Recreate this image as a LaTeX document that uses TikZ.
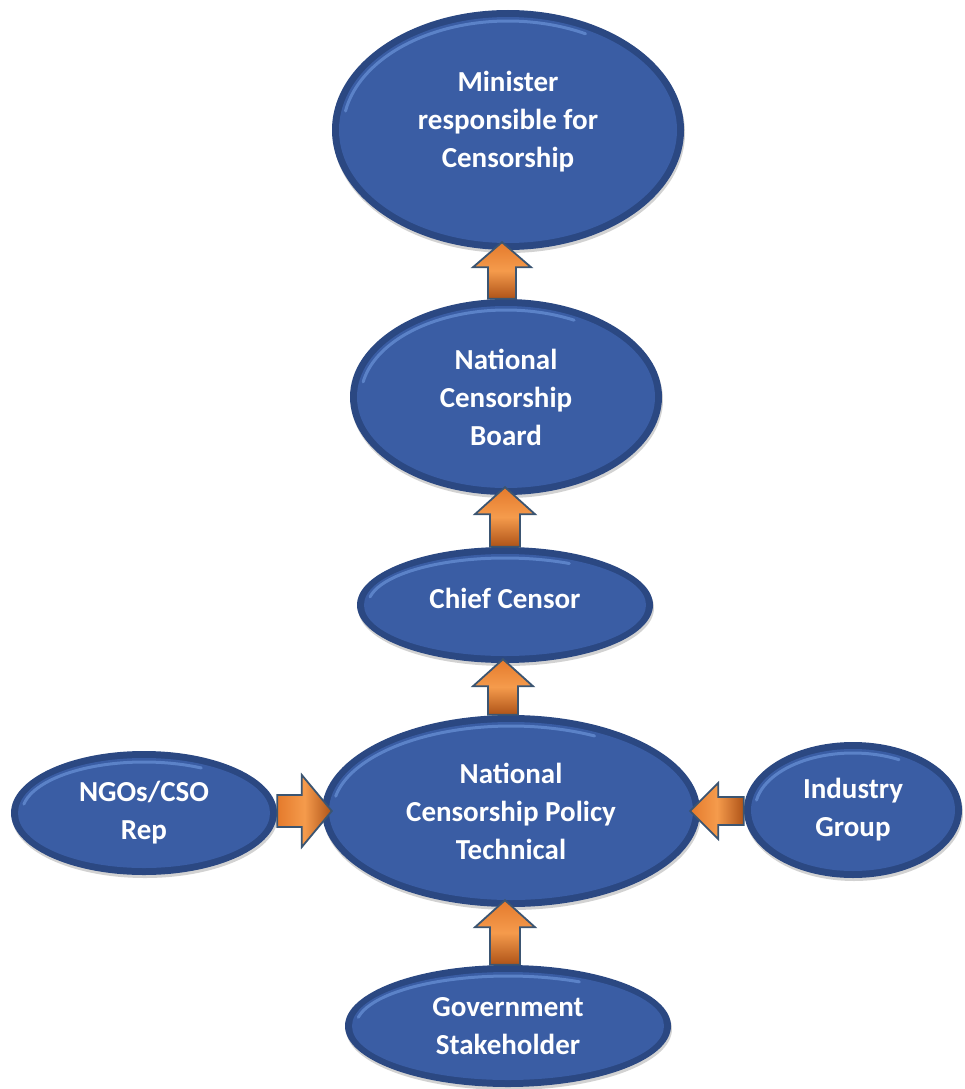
\documentclass[tikz,border=0pt]{standalone}
\usepackage{fontspec}
\setmainfont{Carlito}
\usetikzlibrary{shapes.geometric,calc,shadows}

\definecolor{rim}{HTML}{2B4882}
\definecolor{face}{HTML}{3A5DA4}
\definecolor{gloss}{HTML}{5F87CC}
\definecolor{arrowedge}{HTML}{3B5572}
\definecolor{arrowleft}{HTML}{E47A2C}
\definecolor{arrowright}{HTML}{AE5318}
\definecolor{arrowlight}{HTML}{F59B4C}

\tikzset{
  bubble/.style={ellipse, inner sep=0pt, fill=rim, text=white,
    font=\fontsize{29}{38}\selectfont\bfseries, align=center,
    drop shadow={shadow xshift=1pt, shadow yshift=-3pt, opacity=0.25, fill=black!70},
    path picture={
      \fill[face] let \p1=(path picture bounding box.north east),
                      \p2=(path picture bounding box.center) in
        (\p2) ellipse [x radius={\x1-\x2-7pt}, y radius={\y1-\y2-7pt}];
      \draw[gloss, line width=3pt, line cap=round, opacity=0.9]
        let \p1=(path picture bounding box.north east),
            \p2=(path picture bounding box.center),
            \n1={\x1-\x2-11pt}, \n2={\y1-\y2-11pt} in
        ($(\p2)+({\n1*cos(170)*1pt},{\n2*sin(170)*1pt})$)
        arc[start angle=170, end angle=62, x radius={\n1*1pt}, y radius={\n2*1pt}];
    }},
  arrowbody/.style={draw=arrowedge, line width=1.8pt, line join=miter,
    left color=arrowleft, right color=arrowright, middle color=arrowlight},
}

% block arrow: tail, tip, shaft half width, head half width, head length, shading angle
\newcommand\blockarrow[6]{%
  \coordinate (hb) at ($(#2)!#5!(#1)$);
  \draw[arrowbody, shading angle=#6]
    ($(#1)!#3!90:(#2)$) -- ($(hb)!#3!90:(#2)$) -- ($(hb)!#4!90:(#2)$) --
    (#2) --
    ($(hb)!#4!-90:(#2)$) -- ($(hb)!#3!-90:(#2)$) -- ($(#1)!#3!-90:(#2)$) -- cycle;
}

\begin{document}
\begin{tikzpicture}[x=1pt, y=-1pt]
\useasboundingbox (0,0) rectangle (965,1089);

\node[bubble, minimum width=352pt, minimum height=240pt, text depth=22pt] (min) at (508,130)
  {Minister\\responsible for\\Censorship};
\node[bubble, minimum width=312pt, minimum height=196pt] (board) at (506,397)
  {National\\Censorship\\Board};
\node[bubble, minimum width=296pt, minimum height=116pt, text depth=14pt] (chief) at (505,605)
  {Chief Censor};
\node[bubble, minimum width=378pt, minimum height=192pt] (policy) at (511,811)
  {National\\Censorship Policy\\Technical};
\node[bubble, minimum width=266pt, minimum height=124pt] (ngo) at (144,813)
  {NGOs/CSO\\Rep};
\node[bubble, minimum width=218pt, minimum height=136pt] (ind) at (853,810)
  {Industry\\Group};
\node[bubble, minimum width=326pt, minimum height=122pt] (gov) at (508,1026)
  {Government\\Stakeholder};

% upward chain
\coordinate (t1) at ($(board.north)+(-4,0)$);
\coordinate (p1) at ($(min.south -| t1)+(0,-8)$);
\blockarrow{t1}{p1}{14pt}{29pt}{25pt}{0}
\coordinate (t2) at (chief.north);
\coordinate (p2) at ($(board.south -| t2)+(0,-8)$);
\blockarrow{t2}{p2}{15pt}{30pt}{27pt}{0}
\coordinate (t3) at ($(policy.north)+(-8,0)$);
\coordinate (p3) at ($(chief.south -| t3)+(0,-4)$);
\blockarrow{t3}{p3}{15pt}{30pt}{27pt}{0}
\coordinate (t4) at ($(gov.north)+(-3,0)$);
\coordinate (p4) at ($(policy.south -| t4)+(0,-7)$);
\blockarrow{t4}{p4}{15pt}{30pt}{27pt}{0}

% side inputs
\coordinate (t5) at (ngo.east |- policy.west);
\coordinate (p5) at ($(policy.west)+(10,0)$);
\blockarrow{t5}{p5}{16pt}{36pt}{30pt}{90}
\coordinate (t6) at (ind.west |- policy.east);
\coordinate (p6) at ($(policy.east)+(-10,0)$);
\blockarrow{t6}{p6}{14pt}{28pt}{28pt}{90}
\end{tikzpicture}
\end{document}
